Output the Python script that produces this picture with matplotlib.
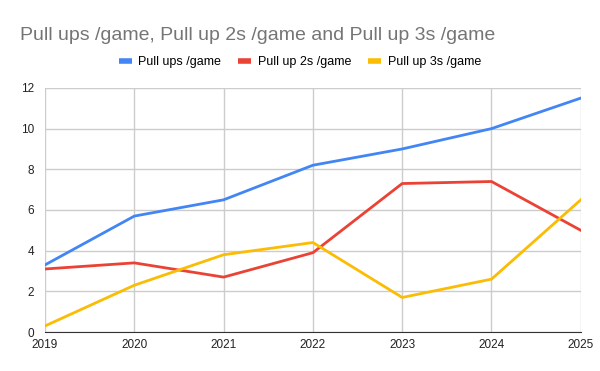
import matplotlib
matplotlib.use('Agg')
import matplotlib.pyplot as plt

# data
years = [2019, 2020, 2021, 2022, 2023, 2024, 2025]
pull_ups = [3.3, 5.7, 6.5, 8.2, 9.0, 10.0, 11.5]
pull_up_2s = [3.1, 3.4, 2.7, 3.9, 7.3, 7.4, 5.0]
pull_up_3s = [0.3, 2.3, 3.8, 4.4, 1.7, 2.6, 6.5]
yticks = [0, 2, 4, 6, 8, 10, 12]

plt.rcParams['font.family'] = ['Liberation Sans', 'DejaVu Sans']

fig = plt.figure(figsize=(6, 3.71), dpi=100)
ax = fig.add_axes([0.075, 0.105, 0.893, 0.658])

ax.plot(years, pull_ups, color='#4285F4', lw=2, label='Pull ups /game')
ax.plot(years, pull_up_2s, color='#EA4335', lw=2, label='Pull up 2s /game')
ax.plot(years, pull_up_3s, color='#FBBC04', lw=2, label='Pull up 3s /game')

ax.set_xlim(2019, 2025)
ax.set_ylim(0, 12)
ax.set_xticks(years)
ax.set_yticks(yticks)
ax.grid(True, color='#cccccc', lw=1)
ax.set_axisbelow(True)
for s in ['top', 'right', 'left']:
    ax.spines[s].set_visible(False)
ax.spines['bottom'].set_color('#333333')
ax.tick_params(length=0, labelsize=8.5, colors='#222222')
ax.tick_params(axis='x', pad=5)
ax.tick_params(axis='y', pad=8)

fig.text(0.033, 0.905, 'Pull ups /game, Pull up 2s /game and Pull up 3s /game',
         fontsize=14, color='#757575', va='center')
leg = fig.legend(loc='center', bbox_to_anchor=(0.5, 0.833), ncol=3, frameon=False,
                 fontsize=9, handlelength=1.0, handletextpad=0.56, columnspacing=1.36)
for h in leg.get_lines():
    h.set_linewidth(4)
    h.set_solid_capstyle('butt')

fig.savefig('out.png', dpi=100)
